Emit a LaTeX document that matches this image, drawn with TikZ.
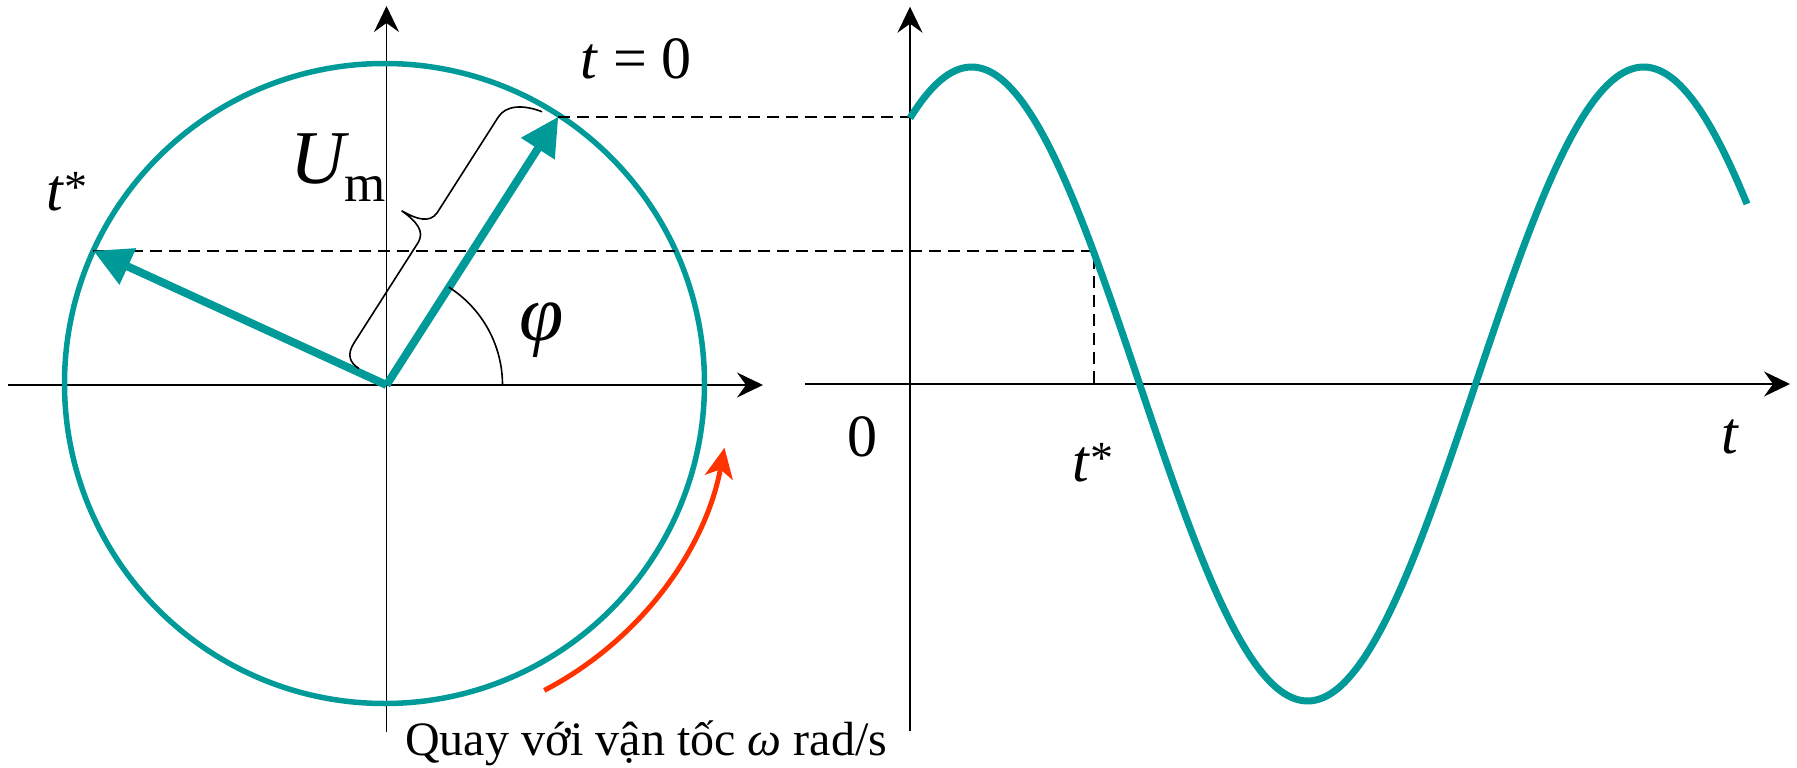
\documentclass[tikz,border=0pt]{standalone}
\usepackage{fontspec}
\setmainfont{Liberation Serif}
\usetikzlibrary{arrows.meta,calc}
\definecolor{phcol}{RGB}{0,155,152}
\definecolor{rotcol}{RGB}{255,51,0}
\newcommand{\starsup}{\raisebox{8pt}{\fontsize{46}{46}\selectfont *}}
\begin{document}
\begin{tikzpicture}[x=1pt,y=-1pt,
  axis/.style={line width=1.8pt,-{Stealth[length=26pt,width=25pt,inset=9pt]}},
  dashline/.style={line width=1.8pt,dash pattern=on 12pt off 7pt},
  phasor/.style={line width=8pt,phcol,-{Triangle[length=38pt,width=38pt]}},
  wave/.style={line width=7pt,phcol},
  thinline/.style={line width=1.6pt},
  lbl/.style={inner sep=0pt,font=\fontsize{60}{70}\selectfont}]
\useasboundingbox (0,0) rectangle (1797,768);
% key points
\coordinate (O) at (386.5,385);
\coordinate (C) at (384.5,383.5);
\coordinate (T0) at (558.3,116.7);
\coordinate (Ts) at (93.3,250.7);
\coordinate (Y0) at (910,116.7);
\coordinate (Ys) at (1094,250.7);
\coordinate (Xs) at (1094,384);
% left axes
\coordinate (LXa) at (8,385);
\coordinate (LXb) at (763,385);
\coordinate (LYa) at (386.5,732);
\coordinate (LYb) at (386.5,6);
\draw[axis] (LXa) -- (LXb);
\draw[axis] (LYa) -- (LYb);
% right axes
\coordinate (RXa) at (805,384);
\coordinate (RXb) at (1790,384);
\coordinate (RYa) at (910,731);
\coordinate (RYb) at (910,6.7);
\draw[axis] (RXa) -- (RXb);
\draw[axis] (RYa) -- (RYb);
% circle
\draw[phcol,line width=5.5pt] (C) circle[radius=320];
% dashed projections
\draw[dashline] (T0) -- (Y0);
\draw[dashline] (Ts) -- (Ys) -- (Xs);
% phasors
\draw[phasor] (O) -- (T0);
\draw[phasor] (O) -- (Ts);
% angle arc
\draw[thinline] (O) ++(0:116) arc[start angle=0,end angle=-57.45,radius=116];
% brace along the phasor (local frame: along, offset)
\begin{scope}[shift={(O)},x={(0.5382pt,0.8429pt)},y={(-0.8429pt,0.5382pt)}]
  \draw[thinline] (-1,32) .. controls (-1,44) and (5,50) .. (18,50) -- (138,50)
    .. controls (150,51) and (154,62) .. (155,81)
    .. controls (156,62) and (160,51) .. (172,50) -- (286,50)
    .. controls (300,50) and (310,36) .. (314,16);
\end{scope}
% rotation arrow
\coordinate (R1) at ($(C)+(62.5:346)$);
\draw[rotcol,line width=5pt,-{Stealth[length=30pt,width=28pt,inset=8pt]}]
  (R1) arc[start angle=62.5,end angle=10.7,radius=346];
% sine wave
\draw[wave] plot[domain=910:1747,samples=240,smooth] (\x,{384-317*sin((\x-910)/672*360+57)});
% labels
\node[lbl,anchor=base west] (lt0) at (580,78) {\textit{t} = 0};
\node[lbl,anchor=base west] (lts) at (46,210) {\textit{t}\starsup};
\node[inner sep=0pt,anchor=base west,font=\fontsize{76}{80}\selectfont] (lU) at (290,183)
  {\textit{U}\kern-5pt\raisebox{-18.5pt}{\fontsize{53}{60}\selectfont m}};
\node[inner sep=0pt,font=\fontsize{80}{90}\selectfont] (lphi) at (542,330) {\textit{φ}};
\node[lbl,anchor=base] (l0) at (862,456) {0};
\node[lbl,anchor=base west] (lts2) at (1072,481) {\textit{t}\starsup};
\node[lbl,anchor=base] (lt) at (1730,453) {\textit{t}};
\node[inner sep=0pt,anchor=base west,font=\fontsize{48}{56}\selectfont] (lq) at (405,755) {Quay với vận tốc \textit{ω} rad/s};
\end{tikzpicture}
\end{document}
